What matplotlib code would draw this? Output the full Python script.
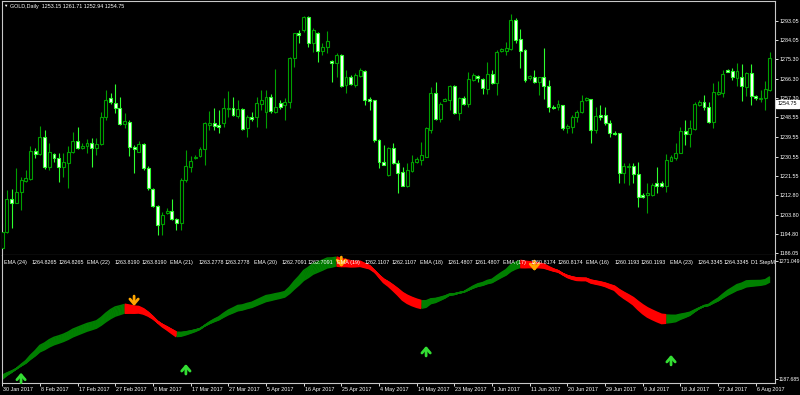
import numpy as np
import matplotlib
matplotlib.use('Agg')
import matplotlib.pyplot as plt
import matplotlib.transforms as mtransforms

plt.rcParams['font.family'] = ['Liberation Sans', 'DejaVu Sans']

W, H = 800, 395

# GOLD daily bars, 30 Jan 2017 .. 9 Aug 2017 (broker shows Sunday bars)
opens = [1188.4, 1196.0, 1210.9, 1209.3, 1214.4, 1219.3, 1220.2, 1233.1, 1231.6, 1239.7,
         1225.9, 1231.7, 1229.7, 1225.6, 1227.7, 1232.5, 1237.8, 1234.4, 1235.4, 1237.0,
         1234.4, 1236.3, 1248.9, 1257.6, 1255.3, 1253.0, 1245.5, 1246.6, 1234.8, 1232.8,
         1236.3, 1225.4, 1215.5, 1207.8, 1199.5, 1204.5, 1205.5, 1201.7, 1199.9, 1219.8,
         1225.9, 1229.7, 1230.8, 1234.2, 1245.3, 1245.9, 1245.1, 1245.9, 1252.4, 1252.7,
         1249.2, 1252.3, 1243.6, 1248.9, 1248.9, 1254.7, 1251.2, 1258.1, 1251.2, 1255.1,
         1254.3, 1255.8, 1275.8, 1287.3, 1288.8, 1294.6, 1282.7, 1287.3, 1279.2, 1280.8,
         1274.5, 1273.7, 1277.3, 1263.5, 1267.3, 1263.5, 1267.7, 1270.1, 1256.9, 1256.6,
         1238.2, 1228.2, 1222.1, 1234.4, 1227.5, 1223.3, 1217.1, 1224.0, 1227.9, 1229.0,
         1230.5, 1242.8, 1259.9, 1247.8, 1256.3, 1256.6, 1263.0, 1250.5, 1257.6, 1254.6,
         1265.8, 1267.7, 1266.2, 1261.5, 1268.5, 1264.3, 1279.2, 1279.2, 1279.9, 1293.4,
         1284.5, 1279.6, 1266.6, 1267.3, 1265.0, 1267.0, 1263.0, 1253.5, 1253.2, 1254.3,
         1243.6, 1244.3, 1248.6, 1250.9, 1256.6, 1256.9, 1242.8, 1249.7, 1249.7, 1245.9,
         1241.5, 1241.2, 1222.9, 1225.9, 1226.3, 1222.5, 1212.9, 1212.9, 1212.9, 1218.5,
         1218.5, 1217.0, 1228.6, 1230.0, 1232.3, 1242.4, 1240.9, 1243.2, 1254.3, 1255.8,
         1253.2, 1246.3, 1259.3, 1259.7, 1270.4, 1270.0, 1266.7, 1267.3, 1262.7, 1268.9,
         1258.4, 1257.0, 1257.4, 1261.2]
highs = [1200.0, 1215.2, 1215.6, 1225.3, 1221.3, 1224.4, 1235.4, 1234.5, 1244.6, 1242.8,
         1237.0, 1232.2, 1232.2, 1232.2, 1235.4, 1242.0, 1244.3, 1236.8, 1238.6, 1239.1,
         1239.1, 1251.0, 1261.2, 1259.8, 1263.9, 1258.1, 1250.6, 1247.4, 1235.9, 1237.7,
         1236.8, 1226.2, 1216.1, 1208.3, 1205.0, 1206.9, 1211.0, 1202.3, 1220.7, 1233.6,
         1230.8, 1231.3, 1235.1, 1246.5, 1251.5, 1252.9, 1252.0, 1257.5, 1260.8, 1258.1,
         1256.6, 1252.9, 1249.7, 1251.0, 1258.1, 1261.2, 1261.2, 1259.3, 1270.8, 1256.6,
         1257.4, 1276.2, 1287.6, 1288.8, 1295.2, 1295.2, 1289.7, 1287.9, 1282.9, 1288.5,
         1275.0, 1278.1, 1277.7, 1270.4, 1268.1, 1268.9, 1271.2, 1270.4, 1258.1, 1256.8,
         1238.6, 1235.9, 1235.1, 1236.7, 1229.0, 1225.9, 1227.5, 1231.3, 1230.5, 1237.4,
         1244.3, 1262.4, 1265.0, 1255.8, 1257.5, 1263.5, 1263.5, 1258.1, 1258.4, 1269.6,
         1268.9, 1268.1, 1266.6, 1274.2, 1270.4, 1279.6, 1280.5, 1283.4, 1296.0, 1294.2,
         1289.1, 1280.0, 1268.1, 1270.4, 1267.3, 1280.4, 1265.8, 1254.3, 1256.6, 1254.5,
         1245.5, 1249.7, 1252.0, 1258.9, 1257.9, 1257.0, 1253.2, 1254.3, 1253.2, 1247.4,
         1242.3, 1241.5, 1227.7, 1227.5, 1227.5, 1228.2, 1213.7, 1218.3, 1218.3, 1225.7,
         1219.3, 1231.7, 1231.3, 1236.7, 1244.3, 1247.4, 1247.4, 1255.8, 1256.6, 1258.9,
         1255.8, 1264.5, 1265.5, 1270.4, 1270.8, 1271.2, 1273.5, 1273.1, 1269.6, 1273.1,
         1258.9, 1261.2, 1265.5, 1278.8]
lows = [1188.0, 1195.5, 1197.7, 1209.2, 1206.0, 1218.9, 1219.8, 1229.9, 1231.3, 1224.8,
        1224.4, 1228.0, 1219.0, 1221.2, 1216.1, 1232.2, 1234.0, 1234.2, 1232.2, 1225.9,
        1231.3, 1235.9, 1247.4, 1254.7, 1250.6, 1245.1, 1243.7, 1230.8, 1222.9, 1232.6,
        1224.4, 1215.2, 1207.3, 1194.5, 1194.5, 1204.1, 1201.4, 1196.8, 1196.8, 1219.0,
        1223.6, 1229.3, 1230.3, 1226.7, 1242.8, 1242.8, 1241.4, 1244.3, 1248.9, 1249.2,
        1248.3, 1242.8, 1239.7, 1246.9, 1244.3, 1252.0, 1243.7, 1250.6, 1250.6, 1252.4,
        1247.4, 1252.7, 1271.9, 1282.7, 1287.9, 1281.1, 1278.8, 1274.2, 1277.3, 1278.1,
        1265.0, 1267.3, 1262.7, 1259.7, 1263.5, 1262.7, 1267.3, 1254.3, 1252.0, 1237.4,
        1225.2, 1226.5, 1221.8, 1227.3, 1213.9, 1216.9, 1216.7, 1223.6, 1227.6, 1226.7,
        1230.3, 1241.2, 1247.4, 1246.6, 1256.1, 1252.0, 1250.1, 1247.4, 1254.3, 1253.5,
        1265.3, 1265.0, 1259.3, 1259.3, 1263.9, 1258.9, 1278.6, 1277.3, 1279.6, 1282.7,
        1271.2, 1265.0, 1265.8, 1264.3, 1258.9, 1256.9, 1251.2, 1252.4, 1252.0, 1242.8,
        1241.2, 1241.2, 1246.6, 1250.5, 1256.1, 1236.7, 1241.2, 1247.4, 1245.1, 1239.4,
        1240.5, 1218.5, 1218.3, 1217.5, 1218.3, 1207.5, 1211.5, 1204.5, 1212.4, 1213.7,
        1216.6, 1214.4, 1228.5, 1229.0, 1232.2, 1235.9, 1234.8, 1242.8, 1253.8, 1252.0,
        1245.9, 1243.6, 1258.9, 1258.1, 1269.5, 1265.8, 1263.0, 1256.2, 1258.4, 1254.3,
        1256.6, 1255.8, 1252.0, 1260.7]
closes = [1196.0, 1211.0, 1209.3, 1214.3, 1219.8, 1220.7, 1233.1, 1231.7, 1239.7, 1225.9,
          1232.8, 1229.7, 1225.9, 1228.0, 1232.6, 1237.8, 1234.4, 1235.5, 1236.7, 1234.4,
          1236.3, 1248.9, 1256.6, 1255.5, 1252.7, 1245.5, 1247.1, 1235.1, 1233.9, 1236.3,
          1225.2, 1216.0, 1207.8, 1199.1, 1203.7, 1205.6, 1201.7, 1200.1, 1219.8, 1226.2,
          1228.6, 1230.5, 1234.2, 1246.1, 1245.8, 1244.6, 1244.0, 1252.7, 1252.9, 1249.7,
          1252.3, 1243.1, 1248.9, 1247.8, 1255.3, 1256.6, 1258.1, 1251.5, 1253.5, 1253.2,
          1255.8, 1275.8, 1287.3, 1286.6, 1294.6, 1282.7, 1288.8, 1279.2, 1280.8, 1283.9,
          1273.7, 1277.3, 1263.2, 1267.3, 1264.0, 1268.1, 1270.4, 1256.6, 1256.2, 1238.2,
          1227.9, 1226.7, 1234.4, 1227.5, 1222.9, 1217.1, 1224.4, 1227.9, 1229.4, 1231.3,
          1243.6, 1259.9, 1247.8, 1254.7, 1256.9, 1263.0, 1250.5, 1257.4, 1254.6, 1266.1,
          1268.1, 1266.6, 1261.9, 1268.5, 1264.3, 1278.8, 1279.9, 1280.4, 1293.4, 1284.2,
          1279.2, 1265.8, 1267.6, 1264.7, 1267.0, 1263.0, 1253.2, 1252.7, 1254.6, 1243.6,
          1244.6, 1248.9, 1251.2, 1256.1, 1257.4, 1242.8, 1249.2, 1248.9, 1245.9, 1241.2,
          1240.9, 1223.1, 1226.3, 1226.4, 1222.5, 1211.8, 1212.1, 1213.7, 1217.5, 1217.0,
          1217.0, 1229.0, 1230.5, 1232.3, 1242.4, 1240.9, 1243.6, 1254.7, 1255.8, 1253.5,
          1246.3, 1260.1, 1260.1, 1268.5, 1269.6, 1267.3, 1269.9, 1263.0, 1268.9, 1258.4,
          1257.4, 1257.6, 1261.5, 1275.8]

price_ticks = [1293.05, 1284.05, 1275.30, 1266.30, 1257.30, 1248.55, 1239.55,
               1230.55, 1221.55, 1212.80, 1203.80, 1194.80, 1186.05]
ind_ticks = [1271.049, 1187.685]
date_labels = ['30 Jan 2017', '8 Feb 2017', '17 Feb 2017', '27 Feb 2017', '8 Mar 2017',
               '17 Mar 2017', '27 Mar 2017', '5 Apr 2017', '16 Apr 2017', '25 Apr 2017',
               '4 May 2017', '14 May 2017', '23 May 2017', '1 Jun 2017', '11 Jun 2017',
               '20 Jun 2017', '29 Jun 2017', '9 Jul 2017', '18 Jul 2017', '27 Jul 2017',
               '6 Aug 2017']

# EMA ribbon (periods 16..24), values at the left edge
ema_periods = [16, 17, 18, 19, 20, 21, 22, 23, 24]
ema_first = [1187.7, 1188.1, 1188.4, 1188.8, 1189.1, 1189.5, 1189.8, 1190.2, 1190.5]
red_runs = [(27, 37), (72, 89), (111, 141)]
up_arrow_bars = [4, 39, 90, 142]
up_arrow_tips = [1192.3, 1198.4, 1211.1, 1204.8]
down_arrow_bars = [28, 72, 113]
down_arrow_tips = [1239.2, 1266.6, 1263.8]

legend_names = ['EMA (24)', 'EMA (22)', 'EMA (21)', 'EMA (20)', 'EMA (19)',
                'EMA (18)', 'EMA (17)', 'EMA (16)', 'EMA (23)']
legend_values = ['1264.8265', '1263.8190', '1263.2778', '1262.7091', '1262.1107',
                 '1261.4807', '1260.8174', '1260.1193', '1264.3345']

title = 'GOLD,Daily  1253.15 1261.71 1252.94 1254.75'
bid = 1254.75

BULL = '#00a000'
BEAR = '#2eff2e'
FS = 3.9
AX_C = '#c8c8c8'

fig = plt.figure(figsize=(W / 100, H / 100), dpi=100, facecolor='black')


def px_axes(x0, y0, x1, y1):
    return fig.add_axes([x0 / W, 1 - y1 / H, (x1 - x0) / W, (y1 - y0) / H])


ax = px_axes(1.5, 1, 775, 255)
ax2 = px_axes(1.5, 255, 775, 382.7)
for a in (ax, ax2):
    a.set_facecolor('black')
    for s in a.spines.values():
        s.set_color(AX_C)
        s.set_linewidth(0.8)
ax2.spines['top'].set_visible(False)

n = len(closes)
idx = np.arange(n)
o = np.array(opens)
c = np.array(closes)
h = np.array(highs)
l = np.array(lows)
up = c >= o

# candles
ax.vlines(idx[up], l[up], h[up], color=BULL, lw=0.8, zorder=2)
ax.vlines(idx[~up], l[~up], h[~up], color=BEAR, lw=0.8, zorder=2)
lo = np.minimum(o, c)
bh = np.maximum(np.abs(c - o), 0.45)
ax.bar(idx[up], bh[up], bottom=lo[up], width=0.62, color='black',
       edgecolor=BULL, lw=0.8, zorder=3)
ax.bar(idx[~up], bh[~up], bottom=lo[~up], width=0.62, color='white',
       edgecolor=BEAR, lw=0.8, zorder=3)

x_left = -0.15
x_right = (775 - 2.2) / 4.71
ax.set_xlim(x_left, x_right)
ax.set_ylim(1185.28, 1302.11)
ax.set_xticks([])
ax.yaxis.tick_right()
ax.set_yticks(price_ticks)
ax.set_yticklabels([f'{v:.2f}' for v in price_ticks])
ax.tick_params(axis='y', colors='white', labelsize=FS, length=2.2, width=0.6, pad=1)

# bid tag
btf = mtransforms.blended_transform_factory(ax.transAxes, ax.transData)
ax.text((778 - 1.5) / 773.5, bid, f'{bid:.2f}', transform=btf, fontsize=FS,
        color='black', va='center', ha='left', clip_on=False, zorder=10,
        bbox=dict(boxstyle='square,pad=0.3', fc='white', ec='white'))

# title
fig.text(3.2 / W, 1 - 6.3 / H, '\u25bc', fontsize=3.2, color='white', va='center')
fig.text(10.5 / W, 1 - 6.3 / H, title, fontsize=FS, color='white', va='center')

# EMA ribbon
red = np.zeros(n, dtype=bool)
for a, b in red_runs:
    red[a:b + 1] = True
runs = []
start = 0
for i in range(1, n + 1):
    if i == n or red[i] != red[start]:
        runs.append((start, i - 1, red[start]))
        start = i

for p, first in zip(ema_periods[::-1], ema_first[::-1]):
    k = 2.0 / (p + 1)
    vals = [first]
    for cl in closes[1:]:
        vals.append(vals[-1] + k * (cl - vals[-1]))
    vals = np.array(vals)
    for a, b, is_red in runs:
        s = max(a - 1, 0)
        ax2.plot(idx[s:b + 1], vals[s:b + 1], color='#ff0000' if is_red else '#008000',
                 lw=1.5 if is_red else 1.1, solid_capstyle='butt', zorder=2)

ARROW_LEN = 7.0
ARROW_STYLE = '->,head_length=0.35,head_width=0.3'
for b, tip in zip(up_arrow_bars, up_arrow_tips):
    ax2.annotate('', xy=(b, tip), xytext=(b, tip - ARROW_LEN),
                 arrowprops=dict(arrowstyle=ARROW_STYLE, color='#33dd33', lw=2.0,
                                 shrinkA=0, shrinkB=0),
                 annotation_clip=False)
for b, tip in zip(down_arrow_bars, down_arrow_tips):
    ax2.annotate('', xy=(b, tip), xytext=(b, tip + ARROW_LEN),
                 arrowprops=dict(arrowstyle=ARROW_STYLE, color='#ffa500', lw=2.0,
                                 shrinkA=0, shrinkB=0),
                 annotation_clip=False)

ax2.set_xlim(x_left, x_right)
ax2.set_ylim(1185.30, 1275.06)
ax2.yaxis.tick_right()
ax2.set_yticks(ind_ticks)
ax2.set_yticklabels(['1271.049', '1187.685'])
ax2.tick_params(axis='y', colors='white', labelsize=3.7, length=2.0, width=0.6, pad=0.5)
ax2.set_xticks(list(range(0, 8 * len(date_labels), 8)))
ax2.set_xticklabels(date_labels, ha='left')
ax2.tick_params(axis='x', colors='white', labelsize=FS, length=2.2, width=0.6, pad=0.6)
shift = mtransforms.ScaledTranslation(1 / 100, 0, fig.dpi_scale_trans)
for lab in ax2.get_xticklabels():
    lab.set_transform(lab.get_transform() + shift)


# legend row of the indicator window
def ax2_xy(px, py):
    return (px - 1.5) / 773.5, (382.7 - py) / 127.7


for k, (name, val) in enumerate(zip(legend_names, legend_values)):
    x0 = 4 + 83.2 * k
    for dx, txt in ((0, name), (27.7, val), (54.3, val)):
        xa, ya = ax2_xy(x0 + dx, 262.5)
        ax2.text(xa, ya, txt, transform=ax2.transAxes, fontsize=FS, color='white',
                 va='center', ha='left', zorder=5)
xa, ya = ax2_xy(751, 262.5)
ax2.text(xa, ya, 'D1 StepM', transform=ax2.transAxes, fontsize=FS, color='white',
         va='center', ha='left', zorder=5)

fig.savefig('out.png', dpi=100, facecolor='black')
